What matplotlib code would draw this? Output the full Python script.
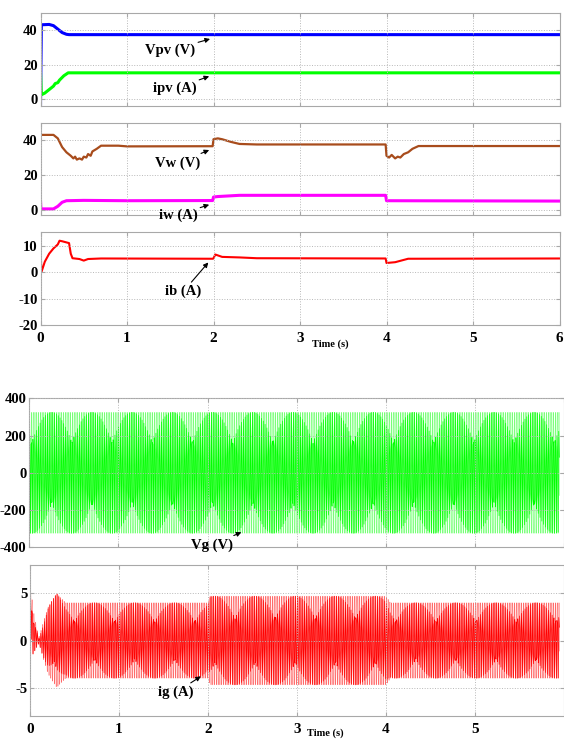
import numpy as np
import matplotlib
matplotlib.use("Agg")
import matplotlib.pyplot as plt

# ---------------------------------------------------------------------------
# values (time in s)
vpv_t = [0, 0.01, 0.10, 0.15, 0.20, 0.25, 0.30, 0.33, 6.0]
vpv_v = [-4, 43.0, 43.2, 42.5, 40.5, 38.5, 37.5, 37.3, 37.3]

ipv_t = [0, 0.01, 0.05, 0.10, 0.15, 0.17, 0.20, 0.22, 0.27, 0.32, 6.0]
ipv_v = [16, 2.5, 3.5, 5.5, 7.5, 9.0, 9.5, 11.0, 13.5, 15.2, 15.2]

vw_t = [0, 0.005, 0.15, 0.20, 0.25, 0.30, 0.35, 0.38, 0.40, 0.42, 0.45, 0.48, 0.50,
        0.53, 0.55, 0.58, 0.60, 0.65, 0.70, 0.90, 1.0, 1.99, 2.0, 2.05, 2.1, 2.2,
        2.3, 2.5, 3.99, 4.0, 4.03, 4.06, 4.1, 4.13, 4.16, 4.2, 4.25, 4.3, 4.37, 6.0]
vw_v = [45, 43.0, 43.0, 41.0, 36.0, 33.0, 31.0, 29.5, 30.5, 28.8, 29.5, 28.8, 30.5,
        30.0, 32.0, 31.0, 33.5, 35.0, 36.8, 36.8, 36.4, 36.5, 40.5, 41.0, 40.5, 39.0,
        37.8, 37.5, 37.5, 31.0, 30.0, 31.5, 29.5, 30.5, 30.0, 32.0, 33.0, 35.0, 36.6, 36.6]

iw_t = [0, 0.005, 0.15, 0.20, 0.25, 0.30, 0.50, 1.0, 1.99, 2.0, 2.05, 2.3, 3.99, 4.0, 6.0]
iw_v = [5.5, 0.5, 0.5, 2.0, 4.3, 5.2, 5.4, 5.2, 5.3, 7.3, 7.6, 8.3, 8.3, 5.2, 5.0]

ib_t = [0, 0.005, 0.01, 0.05, 0.10, 0.15, 0.20, 0.22, 0.25, 0.33, 0.35, 0.37, 0.45,
        0.50, 0.55, 0.70, 1.99, 2.0, 2.02, 2.1, 2.3, 2.5, 3.99, 4.0, 4.1, 4.25, 6.0]
ib_v = [-20, 5, 0, 4, 7, 9, 10.5, 11.9, 11.7, 11.0, 7.0, 5.3, 5.0,
        4.4, 5.0, 5.2, 5.1, 5.2, 6.7, 5.8, 5.6, 5.3, 5.2, 3.5, 3.8, 5.1, 5.2]

# grid side: 50 Hz waveforms, envelopes
f_grid = 50.0
fine_step = 5e-5
coarse_step = (1 / 3 + 0.005) / f_grid   # logged samples -> the moire pattern

vg_env_t = [0, 5.95]
vg_env_a = [325, 325]

ig_env_t = [0, 0.03, 0.10, 0.20, 0.30, 0.40, 2.0, 2.02, 4.0, 4.05, 5.95]
ig_env_a = [3.0, 2.5, 0.3, 3.5, 5.0, 4.0, 4.0, 4.7, 4.7, 4.0, 4.0]
ig_dc = [4.5, 1.0, 0.0, 0.0, 0.0, 0.0, 0.0, 0.0, 0.0, 0.0, 0.0]

# ---------------------------------------------------------------------------
plt.rcParams['font.family'] = ['Liberation Serif', 'DejaVu Serif']
plt.rcParams['font.weight'] = 'bold'
plt.rcParams['axes.unicode_minus'] = False
plt.rcParams['path.simplify'] = False

W, H = 564, 740
fig = plt.figure(figsize=(W / 100, H / 100), dpi=100)


def px_axes(l, r, t, b):
    return fig.add_axes([l / W, 1 - b / H, (r - l) / W, (b - t) / H])


def style(ax, xlim, ylim, yticks, xlabels):
    ax.set_xlim(*xlim)
    ax.set_ylim(*ylim)
    ax.set_yticks(yticks)
    ax.set_xticks(range(0, 7))
    ax.grid(True, ls=':', color='#b8b8b8', lw=0.7)
    ax.set_axisbelow(False)
    for s in ax.spines.values():
        s.set_color('#a8a8a8')
    ax.tick_params(direction='in', length=3, color='#a8a8a8', top=True, right=True,
                   labelsize=10.5, pad=2)
    if not xlabels:
        ax.set_xticklabels([])
    else:
        ax.tick_params(axis='x', pad=5, labelsize=11)


def note(ax, txt, xy, xytext):
    ax.annotate(txt, xy=xy, xytext=xytext, ha='center', va='center', fontsize=10.5,
                fontweight='bold', annotation_clip=False,
                arrowprops=dict(arrowstyle='-|>', color='black', lw=0.8,
                                mutation_scale=7, shrinkA=0, shrinkB=0))


def grid_wave(t, env_t, env_a, dc=None, phase=0.0):
    y = np.interp(t, env_t, env_a) * np.sin(2 * np.pi * f_grid * t + phase)
    if dc is not None:
        y = y + np.interp(t, env_t, dc)
    return y


# top group
ax1 = px_axes(40.5, 559.5, 12.7, 106)
ax1.plot(vpv_t, vpv_v, color='#0000ff', lw=2.2)
ax1.plot(ipv_t, ipv_v, color='#00ff00', lw=2.2)
style(ax1, (0, 6), (-4, 50), [0, 20, 40], False)
note(ax1, 'Vpv (V)', (1.96, 34.8), (1.50, 28.3))
note(ax1, 'ipv (A)', (1.95, 13.2), (1.55, 6.0))

ax2 = px_axes(40.5, 559.5, 122.7, 215)
ax2.plot(vw_t, vw_v, color='#a84c1c', lw=1.6)
ax2.plot(iw_t, iw_v, color='#ff00ff', lw=2.2)
style(ax2, (0, 6), (-3, 50), [0, 20, 40], False)
note(ax2, 'Vw (V)', (1.95, 34.3), (1.59, 26.9))
note(ax2, 'iw (A)', (1.95, 2.9), (1.59, -2.9))

ax3 = px_axes(40.5, 559.5, 232.5, 325.3)
ax3.plot(ib_t, ib_v, color='#ff0000', lw=1.5)
style(ax3, (0, 6), (-20, 15), [-20, -10, 0, 10], True)
note(ax3, 'ib (A)', (1.94, 3.7), (1.65, -7.3))
fig.text(330 / W, 1 - 344 / H, 'Time (s)', fontsize=7.5, fontweight='bold',
         ha='center', va='center')

# bottom group
tf = np.arange(0, 5.95, fine_step)
tc = np.arange(0, 5.95, coarse_step)

ax4 = px_axes(29.3, 564, 398.3, 547.3)
ax4.plot(tf, grid_wave(tf, vg_env_t, vg_env_a, phase=0.4), color='#00ff00', lw=0.35, alpha=0.55)
ax4.plot(tc, grid_wave(tc, vg_env_t, vg_env_a, phase=0.4), color='#00ff00', lw=0.5)
style(ax4, (0, 5.95), (-400, 400), [-400, -200, 0, 200, 400], False)
note(ax4, 'Vg (V)', (2.38, -319), (2.05, -388))

ig_f = grid_wave(tf, ig_env_t, ig_env_a, ig_dc, phase=0.3)
ig_f[0] = -8
ax5 = px_axes(30, 564, 565, 716)
ax5.plot(tf, ig_f, color='#ff0000', lw=0.35, alpha=0.6)
ax5.plot(tc, grid_wave(tc, ig_env_t, ig_env_a, ig_dc, phase=0.3), color='#ff0000', lw=0.5)
style(ax5, (0, 5.95), (-8, 8), [-5, 0, 5], True)
ax5.set_xticks(range(0, 6))
note(ax5, 'ig (A)', (1.92, -3.8), (1.64, -5.5))
fig.text(325 / W, 1 - 733 / H, 'Time (s)', fontsize=7.5, fontweight='bold',
         ha='center', va='center')

fig.savefig('out.png', dpi=100)
